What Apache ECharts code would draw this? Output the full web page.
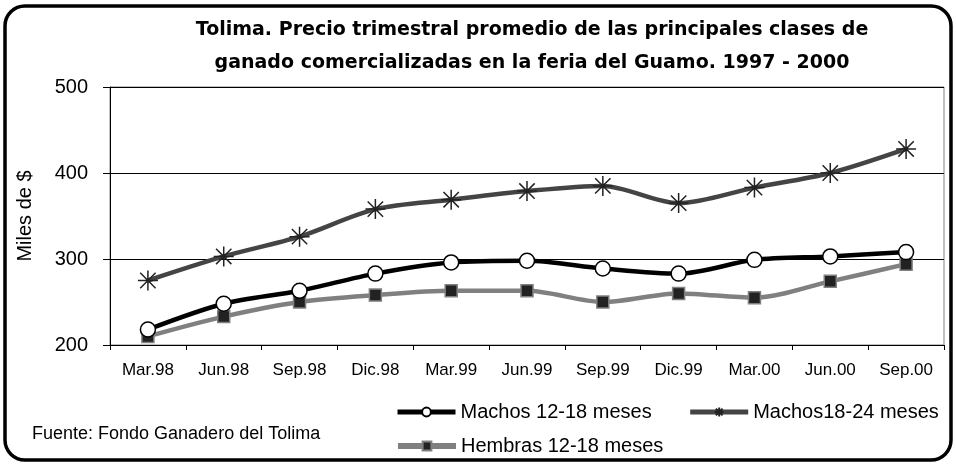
<!DOCTYPE html>
<html>
<head>
<meta charset="utf-8">
<script src="https://cdn.jsdelivr.net/npm/echarts@6/dist/echarts.min.js"></script>
<style>
  html, body { margin: 0; padding: 0; background: #fff; }
  #chart { width: 956px; height: 464px; }
</style>
</head>
<body>
<div id="chart"></div>
<script>
// trimestres
const periodos = ['Mar.98', 'Jun.98', 'Sep.98', 'Dic.98', 'Mar.99', 'Jun.99', 'Sep.99', 'Dic.99', 'Mar.00', 'Jun.00', 'Sep.00']
// miles de $
const machos1218 = [218, 248, 263, 283, 296, 298, 289, 283, 299, 303, 308]
const machos1824 = [275, 303, 326, 358, 369, 379, 385, 365, 383, 400, 428]
const hembras1218 = [210, 233, 250, 258, 263, 263, 250, 260, 255, 274, 294]

const asterisco = 'path://M0,0L20,20M20,0L0,20M10,-3L10,23M-3,10L23,10'

const chart = echarts.init(document.getElementById('chart'))
chart.setOption({
  backgroundColor: '#fff',
  animation: false,
  textStyle: { fontFamily: 'Liberation Sans, Arial, sans-serif', color: '#000' },
  graphic: [
    {
      type: 'rect',
      shape: { x: 5, y: 6, width: 946, height: 454, r: 20 },
      style: { fill: 'none', stroke: '#000', lineWidth: 3.5 },
      silent: true
    },
    {
      type: 'text',
      x: 532,
      y: 14,
      style: {
        text: 'Tolima. Precio trimestral promedio de las principales clases de\nganado comercializadas en la feria del Guamo. 1997 - 2000',
        font: 'bold 19px DejaVu Sans, sans-serif',
        lineHeight: 33,
        textAlign: 'center',
        fill: '#000'
      }
    },
    {
      type: 'text',
      x: 32,
      y: 425,
      style: {
        text: 'Fuente: Fondo Ganadero del Tolima',
        font: '18px Liberation Sans, Arial, sans-serif',
        fill: '#000'
      }
    }
  ],
  grid: {
    left: 110,
    right: 12,
    top: 87,
    bottom: 119,
    show: true,
    borderColor: '#808080',
    borderWidth: 1
  },
  legend: [
    {
      data: [
        { name: 'Machos 12-18 meses', lineStyle: { width: 5 } },
        { name: 'Machos18-24 meses', lineStyle: { width: 5 } }
      ],
      left: 390,
      top: 397,
      itemWidth: 58,
      itemHeight: 11,
      itemGap: 36,
      textStyle: { fontSize: 20, color: '#000' }
    },
    {
      data: [
        { name: 'Hembras 12-18 meses', lineStyle: { width: 6 } }
      ],
      left: 390,
      top: 431,
      itemWidth: 58,
      itemHeight: 11,
      textStyle: { fontSize: 20, color: '#000' }
    }
  ],
  xAxis: {
    type: 'category',
    data: periodos,
    boundaryGap: true,
    axisLine: { lineStyle: { color: '#000', width: 1 } },
    axisTick: { show: true, length: 5, lineStyle: { color: '#000' } },
    axisLabel: { fontSize: 17, color: '#000', margin: 17 }
  },
  yAxis: {
    type: 'value',
    min: 200,
    max: 500,
    interval: 100,
    name: 'Miles de $',
    nameLocation: 'middle',
    nameGap: 75,
    nameRotate: 90,
    nameTextStyle: { fontSize: 20, color: '#000' },
    axisLine: { show: true, lineStyle: { color: '#000', width: 1 } },
    axisTick: { show: true, length: 7, lineStyle: { color: '#000' } },
    axisLabel: { fontSize: 20, color: '#000', margin: 22 },
    splitLine: { show: true, lineStyle: { color: '#000', width: 1 } }
  },
  series: [
    {
      name: 'Machos 12-18 meses',
      type: 'line',
      smooth: 0.3,
      data: machos1218,
      symbol: 'circle',
      symbolSize: 15,
      lineStyle: { color: '#000', width: 4.5 },
      itemStyle: { color: '#fff', borderColor: '#000', borderWidth: 1.5 },
      z: 4
    },
    {
      name: 'Machos18-24 meses',
      type: 'line',
      smooth: 0.3,
      data: machos1824,
      symbol: asterisco,
      symbolSize: 20,
      lineStyle: { color: '#444', width: 4.5 },
      itemStyle: { color: '#222', borderColor: '#222', borderWidth: 1.5 },
      z: 3
    },
    {
      name: 'Hembras 12-18 meses',
      type: 'line',
      smooth: 0.3,
      data: hembras1218,
      symbol: 'rect',
      symbolSize: 12,
      lineStyle: { color: '#808080', width: 4.5 },
      itemStyle: { color: '#222', borderColor: '#808080', borderWidth: 1.5 },
      z: 2
    }
  ]
})
</script>
</body>
</html>
